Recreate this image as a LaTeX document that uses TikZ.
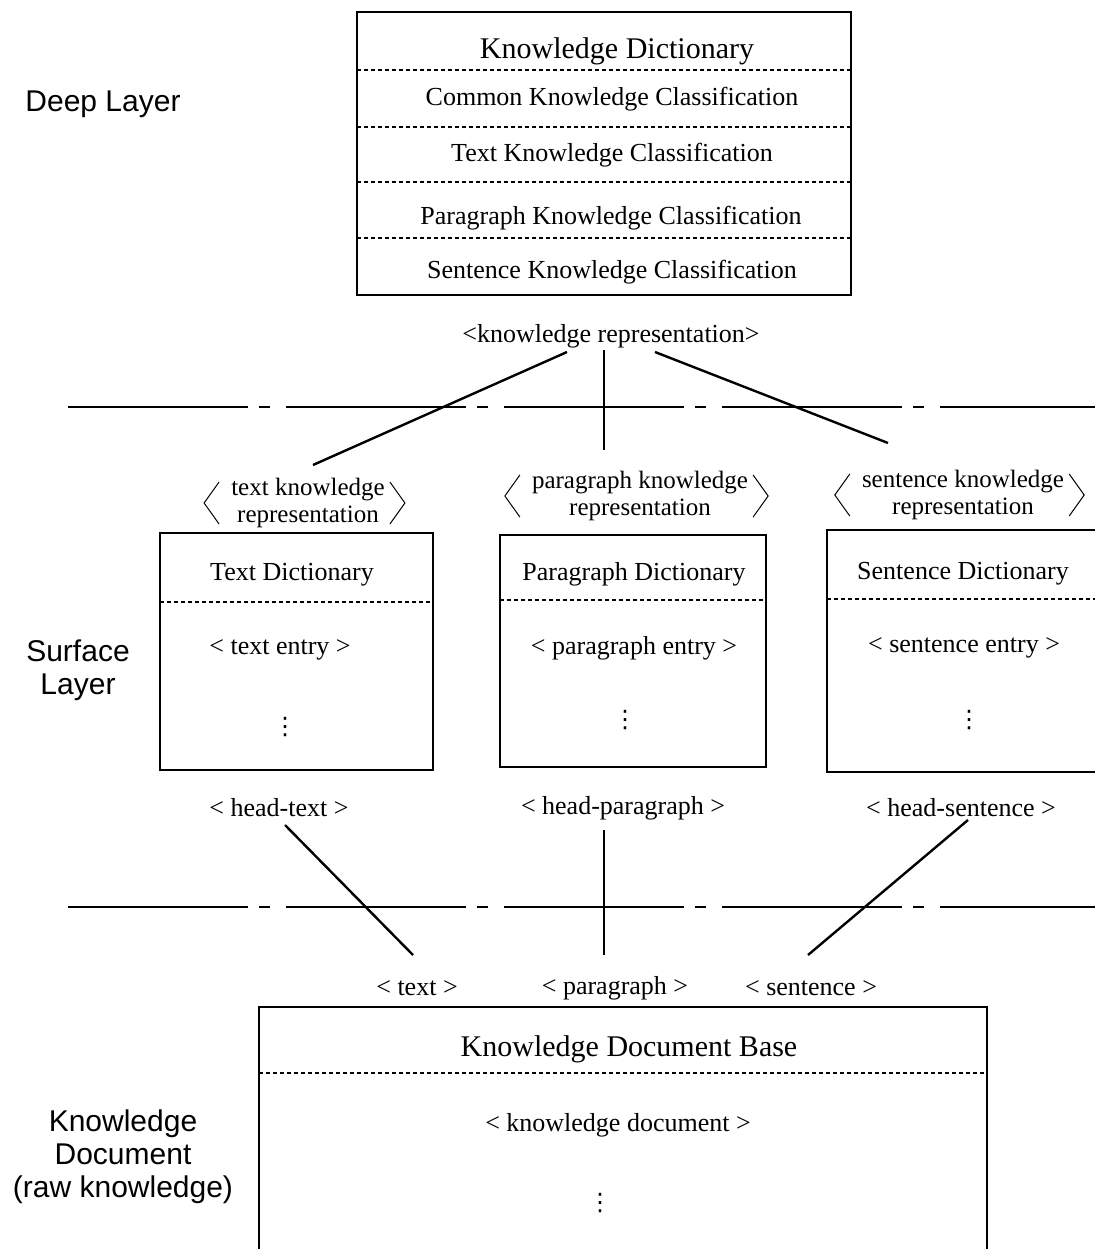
\documentclass[tikz,border=0pt]{standalone}
\usepackage{fontspec}
\setmainfont{Liberation Serif}
\newfontfamily\labelfont{Liberation Sans}
\newfontfamily\symfont{DejaVu Sans}
\usetikzlibrary{calc}

\begin{document}
\begin{tikzpicture}[x=1pt,y=-1pt,
  box/.style={line width=2pt},
  sep/.style={line width=1.4pt, dash pattern=on 4pt off 3pt},
  layerline/.style={line width=1.6pt, dash pattern=on 180pt off 11pt on 11pt off 16pt},
  link/.style={line width=2.4pt},
  brk/.style={line width=1pt},
  title/.style={font=\fontsize{30}{32}\selectfont, inner sep=0pt, yshift=-3pt},
  entry/.style={font=\fontsize{26}{28}\selectfont, inner sep=0pt, yshift=-3pt},
  rep/.style={font=\fontsize{25}{27.5}\selectfont, align=center, inner sep=0pt, yshift=-3pt},
  layer/.style={font=\labelfont\fontsize{30}{33}\selectfont, align=center, inner sep=0pt, yshift=-3pt},
  vdotsnode/.style={font=\symfont\fontsize{24}{24}\selectfont, inner sep=0pt}
]
\useasboundingbox (0,0) rectangle (1095,1249);

% ---------------- layer names ----------------
\node[layer] (deep) at (103,101) {Deep Layer};
\node[layer] (surface) at (78,667) {Surface\\Layer};
\node[layer] (rawdoc) at (123,1154) {Knowledge\\Document\\(raw knowledge)};

% ---------------- layer boundaries ----------------
\draw[layerline] (68,407) -- (1095,407);
\draw[layerline] (68,907) -- (1095,907);

% ---------------- knowledge dictionary ----------------
\draw[box] (357,12) rectangle (851,295);
\draw[sep] (357,70) -- (851,70);
\draw[sep] (357,127) -- (851,127);
\draw[sep] (357,182) -- (851,182);
\draw[sep] (357,238) -- (851,238);
\node[title] (kd)  at (617,48)  {Knowledge Dictionary};
\node[entry] (ckc) at (612,96)  {Common Knowledge Classification};
\node[entry] (tkc) at (612,152) {Text Knowledge Classification};
\node[entry] (pkc) at (611,215) {Paragraph Knowledge Classification};
\node[entry] (skc) at (612,269) {Sentence Knowledge Classification};

\node[entry] (kr) at (611,333) {<knowledge representation>};

% ---------------- representation labels ----------------
\node[rep] (tkr) at (308,500) {text knowledge\\representation};
\node[rep] (pkr) at (640,493) {paragraph knowledge\\representation};
\node[rep] (skr) at (963,492) {sentence knowledge\\representation};
\foreach \n in {tkr,pkr,skr}{
  \draw[brk] ($(\n.west)+(-12,-21)$) -- ($(\n.west)+(-27,0)$) -- ($(\n.west)+(-12,21)$);
  \draw[brk] ($(\n.east)+(5,-21)$) -- ($(\n.east)+(20,0)$) -- ($(\n.east)+(5,21)$);
}

\coordinate (kr-a) at (567,352);
\coordinate (kr-b) at (604,350);
\coordinate (kr-c) at (655,352);
\coordinate (tkr-in) at (313,465);
\coordinate (pkr-in) at (604,450);
\coordinate (skr-in) at (888,443);
\draw[link] (kr-a) -- (tkr-in);
\draw[link, line width=1.6pt] (kr-b) -- (pkr-in);
\draw[link] (kr-c) -- (skr-in);

% ---------------- surface dictionaries ----------------
\draw[box] (160,533) rectangle (433,770);
\draw[sep] (160,602) -- (433,602);
\node[entry] (td) at (292,572) {Text Dictionary};
\node[entry] (te) at (280,647) {< text entry >};
\node[vdotsnode] (tv) at (285,727) {⋮};

\draw[box] (500,535) rectangle (766,767);
\draw[sep] (500,600) -- (766,600);
\node[entry] (pd) at (634,571) {Paragraph Dictionary};
\node[entry] (pe) at (634,645) {< paragraph entry >};
\node[vdotsnode] (pv) at (625,720) {⋮};

\draw[box] (1095,530) -- (827,530) -- (827,772) -- (1095,772);
\draw[sep] (827,599) -- (1095,599);
\node[entry] (sd) at (963,571) {Sentence Dictionary};
\node[entry] (se) at (964,645) {< sentence entry >};
\node[vdotsnode] (sv) at (969,720) {⋮};

% ---------------- heads and document units ----------------
\node[entry] (ht) at (279,805) {< head-text >};
\node[entry] (hp) at (623,805) {< head-paragraph >};
\node[entry] (hs) at (961,805) {< head-sentence >};

\node[entry] (ut) at (417,985) {< text >};
\node[entry] (up) at (615,985) {< paragraph >};
\node[entry] (us) at (811,985) {< sentence >};

\coordinate (ht-out) at (285,825);
\coordinate (hp-out) at (604,830);
\coordinate (hs-out) at (968,820);
\coordinate (ut-in) at (413,955);
\coordinate (up-in) at (604,955);
\coordinate (us-in) at (808,955);
\draw[link] (ht-out) -- (ut-in);
\draw[link, line width=1.6pt] (hp-out) -- (up-in);
\draw[link] (hs-out) -- (us-in);

% ---------------- knowledge document base ----------------
\draw[box] (259,1249) -- (259,1007) -- (987,1007) -- (987,1249);
\draw[sep] (259,1073) -- (987,1073);
\node[title] (kdb) at (629,1046) {Knowledge Document Base};
\node[entry] (kdoc) at (618,1122) {< knowledge document >};
\node[vdotsnode] (dv) at (600,1203) {⋮};
\end{tikzpicture}
\end{document}
